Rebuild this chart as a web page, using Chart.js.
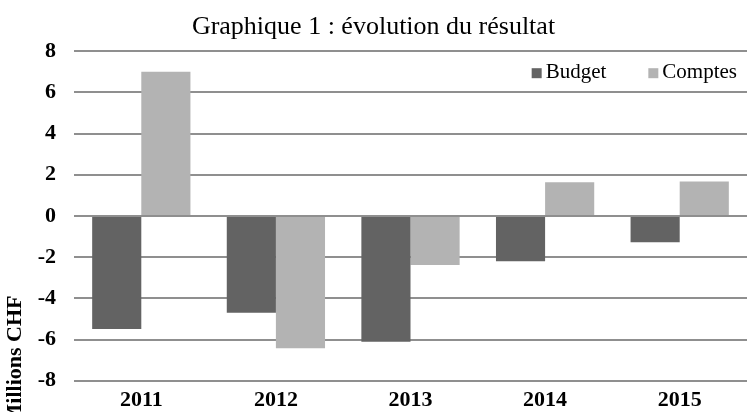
<!DOCTYPE html>
<html>
<head>
<meta charset="utf-8">
<script src="https://cdn.jsdelivr.net/npm/chart.js@4"></script>
<style>
  html, body { margin: 0; padding: 0; background: #fff; }
  #wrap { width: 747px; height: 412px; }
</style>
</head>
<body>
<div id="wrap"><canvas id="myChart"></canvas></div>
<script>
const years = ['2011', '2012', '2013', '2014', '2015'];
const budget = [-5.48, -4.7, -6.1, -2.2, -1.28];
const comptes = [7.0, -6.42, -2.38, 1.64, 1.68];
const yTicks = [-8, -6, -4, -2, 0, 2, 4, 6, 8];
const yTitle = 'Millions CHF';

const serif = "'Liberation Serif', 'Times New Roman', serif";

// legend drawn inside the plot, top right, like the original
const innerLegend = {
  id: 'innerLegend',
  afterDraw(chart) {
    const c = chart.ctx;
    const area = chart.chartArea;
    c.save();
    c.font = '21px ' + serif;
    c.textBaseline = 'middle';
    c.textAlign = 'left';
    const y = area.top + 21;
    let x = area.right - 10;
    const sets = chart.data.datasets.slice().reverse();
    sets.forEach((ds) => {
      const w = c.measureText(ds.label).width;
      const tx = x - w;
      const bx = tx - 4 - 10;
      c.fillStyle = ds.backgroundColor;
      c.fillRect(bx, y - 4, 10, 10);
      c.fillStyle = '#000';
      c.fillText(ds.label, tx, y);
      x = bx - 42;
    });
    c.restore();
  }
};

// y axis title, placed low on the left side as in the original
const sideTitle = {
  id: 'sideTitle',
  afterDraw(chart) {
    const c = chart.ctx;
    c.save();
    c.font = 'bold 22px ' + serif;
    c.fillStyle = '#000';
    c.textAlign = 'center';
    c.textBaseline = 'middle';
    c.translate(15, 360);
    c.rotate(-Math.PI / 2);
    c.fillText(yTitle, 0, 0);
    c.restore();
  }
};

const ctx = document.getElementById('myChart');

new Chart(ctx, {
  type: 'bar',
  data: {
    labels: years,
    datasets: [{
      label: 'Budget',
      data: budget,
      backgroundColor: '#636363'
    }, {
      label: 'Comptes',
      data: comptes,
      backgroundColor: '#b3b3b3'
    }]
  },
  options: {
    responsive: true,
    maintainAspectRatio: false,
    animation: false,
    layout: { padding: { top: 12, right: 0, bottom: 0, left: 0 } },
    datasets: { bar: { categoryPercentage: 0.73, barPercentage: 1.0 } },
    plugins: {
      title: {
        display: true,
        text: 'Graphique 1 : évolution du résultat',
        color: '#000',
        font: { family: serif, size: 26, weight: 'normal' },
        padding: { top: 0, bottom: 8 }
      },
      legend: { display: false },
      tooltip: { enabled: false }
    },
    scales: {
      x: {
        grid: { display: false },
        border: { display: false },
        afterFit: (axis) => { axis.height = 30; },
        ticks: {
          color: '#000',
          font: { family: serif, size: 22, weight: 'bold' },
          padding: -2
        }
      },
      y: {
        min: -8,
        max: 8,
        afterBuildTicks: (axis) => { axis.ticks = yTicks.map(v => ({ value: v })); },
        afterFit: (axis) => { axis.width = 74; },
        grid: { color: '#8f8f8f', lineWidth: 2, drawTicks: false },
        border: { display: false },
        ticks: {
          color: '#000',
          font: { family: serif, size: 22, weight: 'bold' },
          padding: 18
        }
      }
    }
  },
  plugins: [innerLegend, sideTitle]
});
</script>
</body>
</html>
